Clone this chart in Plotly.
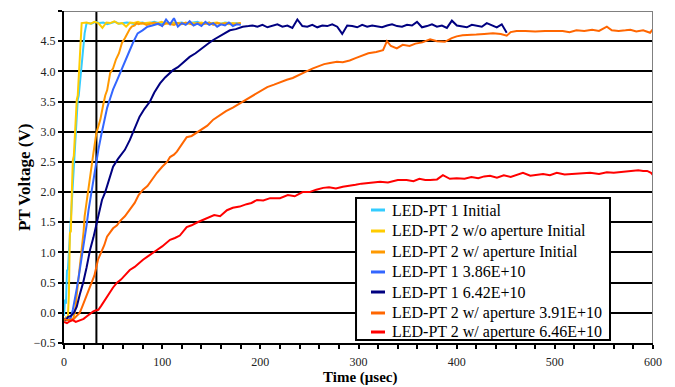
import numpy as np
import plotly.graph_objects as go

# ---------------- data ----------------
names = ["LED-PT 1 Initial", "LED-PT 2 w/o aperture Initial", "LED-PT 2 w/ aperture Initial",
         "LED-PT 1 3.86E+10", "LED-PT 1 6.42E+10", "LED-PT 2 w/ aperture 3.91E+10",
         "LED-PT 2 w/ aperture 6.46E+10"]
colors = ["#33CCFF", "#FFCC00", "#FF9900", "#3366FF", "#000080", "#FF6600", "#FF0000"]

# LED-PT 1 Initial
cyan_rise_x = [0,1,2,3,4,5,6,7,8,9,10,11,12,13,14,15,16,17,18,19,20,21,22,23]
cyan_rise_y = [-0.05,0.22,0.15,0.7,0.72,1.0,1.38,1.45,1.9,2.1,2.3,2.58,2.9,3.2,3.53,3.6,3.8,3.95,4.07,4.3,4.45,4.63,4.7,4.8]
cyan_flat_y = [4.80,4.79,4.82,4.80,4.81,4.78,4.80,4.82,4.79,4.80,4.81,4.80,4.78,4.80,4.81,4.79,4.80,4.82,4.80,4.79,
               4.81,4.80,4.78,4.80,4.81,4.79,4.80,4.80,4.82,4.79,4.80,4.81,4.78,4.80,4.79,4.81,4.80,4.79,4.80,4.78]
cyan_flat_span = (24, 180)

# LED-PT 2 w/o aperture Initial
yel_rise_x = [0,1,2,3,4,5,6,7,8,9,10,11,12,13,14,15,16,17,18]
yel_rise_y = [-0.1,-0.12,-0.08,-0.1,-0.05,0.3,1.32,1.35,2.0,2.53,2.6,3.0,3.3,3.53,3.6,4.0,4.27,4.5,4.8]
yel_flat_y = [4.80,4.81,4.79,4.82,4.80,4.72,4.81,4.80,4.83,4.79,4.80,4.74,4.81,4.80,4.82,4.79,4.80,4.81,4.78,4.80,
              4.82,4.79,4.80,4.81,4.79,4.80,4.78,4.81,4.80,4.79,4.81,4.80,4.78,4.80,4.81,4.79,4.80,4.78,4.80,4.79,4.80]
yel_flat_span = (19, 180)

# LED-PT 2 w/ aperture Initial
org_rise_x = [0,3,6,9,11,12,14,16,18,20,21,23,26,28,30,33,35,37,40,42,44,47,50,53,56,59,62,64,67,69,72,74]
org_rise_y = [-0.1,-0.12,-0.1,-0.12,0.0,0.15,0.45,0.7,1.0,1.35,1.6,1.85,2.2,2.4,2.65,2.98,3.1,3.2,3.45,3.6,3.69,3.97,
              4.05,4.2,4.3,4.47,4.55,4.62,4.7,4.74,4.76,4.8]
org_flat_y = [4.78,4.80,4.77,4.79,4.81,4.78,4.76,4.80,4.79,4.77,4.80,4.78,4.81,4.79,4.77,4.80,4.78,4.79,4.81,4.77,
              4.80,4.78,4.79,4.80,4.77,4.79,4.80]
org_flat_span = (76, 180)

# LED-PT 1 3.86E+10
blu_rise_x = [0,3,5,7,9,11,13,15,17,19,21,23,25,27,30,33,35,38,41,44,47,50,54,57,60,64,67,71,75,80,85,90]
blu_rise_y = [-0.1,-0.1,-0.12,-0.08,0.05,0.2,0.4,0.6,0.8,1.04,1.25,1.45,1.7,1.9,2.2,2.55,2.7,2.95,3.2,3.4,3.55,3.7,
              3.85,3.97,4.1,4.25,4.35,4.5,4.63,4.68,4.74,4.76]
blu_flat_y = [4.77,4.79,4.75,4.86,4.78,4.88,4.74,4.80,4.77,4.83,4.76,4.79,4.75,4.82,4.77,4.80,4.74,4.78,4.76,4.81,
              4.75,4.78,4.77]
blu_flat_span = (92, 180)

# LED-PT 1 6.42E+10
nav_rise_x = [0,2,4,7,10,13,16,19.5,23,26.5,30,33.6,36,38.7,42,45,48,50,55,62,67,72,77,82,87.6,92,97.8,103,108,111,
              116,122,128,134,140,146,152,158,163,169,175,182,188]
nav_rise_y = [-0.1,-0.12,-0.07,-0.05,0.0,0.1,0.3,0.5,0.75,1.04,1.25,1.49,1.7,1.87,2.0,2.15,2.3,2.42,2.55,2.7,2.86,
              3.05,3.25,3.38,3.5,3.65,3.8,3.9,3.97,4.02,4.07,4.15,4.24,4.3,4.38,4.45,4.52,4.58,4.63,4.68,4.70,4.74,4.75]
nav_flat_y = [4.76,4.74,4.77,4.73,4.75,4.78,4.74,4.76,4.72,4.86,4.75,4.74,4.77,4.73,4.76,4.75,4.78,4.74,4.62,4.76,
              4.75,4.73,4.77,4.74,4.76,4.75,4.73,4.76,4.78,4.75,4.74,4.77,4.76,4.82,4.73,4.75,4.78,4.74,4.76,4.72,
              4.84,4.76,4.75,4.73,4.77,4.75,4.74,4.80,4.76,4.73,4.78,4.64]
nav_flat_span = (192, 451)

# LED-PT 2 w/ aperture 3.91E+10
o2_x = [0,3,6,10,13,16,19,22,25,28.5,31,34.6,38,41,43.8,47,50,54,57,62,67,72,76,80.5,85,90,94.7,100,105,108,112,115,
        120,125,130,135,141.6,146,152,159,165,172,179,186,192,200,207,214,220,227,233,240,247,253.6,260,265,271,278,
        284,291,297,304.5,310,318,325,329,333,339,345,352,358,365,373,380,388,395,400,406,412,420,428,437,445,451,455,
        461,470,480,490,500,508,515,522,530,538,545,553,558,565,572,577,583,590,597,600]
o2_y = [-0.1,-0.12,-0.12,-0.1,-0.05,0.0,0.12,0.25,0.35,0.5,0.62,0.88,1.0,1.12,1.26,1.33,1.4,1.45,1.52,1.6,1.72,1.82,
        1.95,2.04,2.1,2.22,2.32,2.42,2.5,2.58,2.62,2.67,2.78,2.91,2.93,2.98,3.06,3.1,3.2,3.28,3.34,3.4,3.47,3.53,3.6,
        3.67,3.74,3.78,3.82,3.86,3.89,3.95,4.0,4.05,4.09,4.12,4.14,4.16,4.15,4.18,4.22,4.27,4.3,4.32,4.35,4.5,4.42,
        4.38,4.44,4.42,4.46,4.48,4.53,4.5,4.49,4.55,4.58,4.6,4.6,4.61,4.62,4.63,4.62,4.59,4.65,4.67,4.67,4.66,4.67,
        4.67,4.67,4.65,4.68,4.67,4.69,4.67,4.74,4.68,4.67,4.68,4.69,4.66,4.68,4.64,4.7]

# LED-PT 2 w/ aperture 6.46E+10
red_x = [0,3,6,9,12,16,20,23,26,29.5,32,35,38,41,43.8,47,50,54,58,62,67,72,76,80.5,85,90,94.7,100,104,108,113,118,125,
         130,136,141.6,148,153,159,166,172,179,186,191,196.6,203,210,220,228,235,243,250,257,264,270,277,284,290,297,
         303,308.6,315,322,330,340,349,356,362,368,373,380,386,393,400,408,415,422,428,434,441,448,455,462,467.5,475,
         482,488,495,502,510,518,526,536,545,553,560,568,577,585,590,594,598,600]
red_y = [-0.15,-0.17,-0.14,-0.12,-0.15,-0.13,-0.1,-0.06,-0.02,0.02,0.04,0.05,0.12,0.2,0.27,0.35,0.42,0.5,0.55,0.62,
         0.71,0.76,0.82,0.88,0.93,0.98,1.04,1.1,1.15,1.21,1.24,1.28,1.42,1.45,1.5,1.54,1.58,1.62,1.6,1.7,1.74,1.76,
         1.8,1.82,1.87,1.86,1.9,1.9,1.95,1.93,2.0,2.0,2.04,2.07,2.08,2.06,2.09,2.1,2.12,2.14,2.15,2.15,2.17,2.16,2.2,
         2.2,2.18,2.22,2.2,2.2,2.21,2.28,2.22,2.23,2.22,2.25,2.23,2.26,2.27,2.24,2.28,2.25,2.29,2.32,2.27,2.29,2.3,
         2.28,2.32,2.29,2.3,2.31,2.32,2.3,2.33,2.32,2.33,2.35,2.36,2.35,2.35,2.32,2.28]

y_ticks = [-0.5,0.0,0.5,1.0,1.5,2.0,2.5,3.0,3.5,4.0,4.5,5.0]
x_ticks = [0,100,200,300,400,500,600]
marker_time = 33  # vertical reference line
x_title = "Time (μsec)"
y_title = "PT Voltage (V)"


def join(rx, ry, flat, span):
    fx = np.linspace(span[0], span[1], len(flat))
    return list(rx) + list(fx), list(ry) + list(flat)


series = [
    join(cyan_rise_x, cyan_rise_y, cyan_flat_y, cyan_flat_span),
    join(yel_rise_x, yel_rise_y, yel_flat_y, yel_flat_span),
    join(org_rise_x, org_rise_y, org_flat_y, org_flat_span),
    join(blu_rise_x, blu_rise_y, blu_flat_y, blu_flat_span),
    join(nav_rise_x, nav_rise_y, nav_flat_y, nav_flat_span),
    (o2_x, o2_y),
    (red_x, red_y),
]

FONT = "Liberation Serif"

fig = go.Figure()
for (sx, sy), n, c in zip(series, names, colors):
    fig.add_trace(go.Scatter(x=sx, y=sy, mode="lines", name=n, line=dict(color=c, width=2),
                             showlegend=False))

# vertical marker line and gray top/right border
fig.add_shape(type="line", x0=marker_time, x1=marker_time, y0=-0.5, y1=5.0, xref="x", yref="y",
              line=dict(color="black", width=2), layer="below")
fig.add_shape(type="line", x0=0, x1=600, y0=5.0, y1=5.0, xref="x", yref="y",
              line=dict(color="#808080", width=2), layer="above")
fig.add_shape(type="line", x0=600, x1=600, y0=-0.5, y1=5.0, xref="x", yref="y",
              line=dict(color="#808080", width=2), layer="above")

# legend box (drawn by hand to match the compact original)
L_x0, L_x1, L_y0, L_y1 = 0.4958, 0.927, 0.009, 0.4367
fig.add_shape(type="rect", xref="paper", yref="paper", x0=L_x0, x1=L_x1, y0=L_y0, y1=L_y1,
              fillcolor="white", line=dict(color="black", width=2), layer="above")
item_y = [0.4006, 0.3373, 0.2741, 0.2139, 0.1536, 0.0904, 0.0331]
for n, c, yy in zip(names, colors, item_y):
    fig.add_shape(type="line", xref="paper", yref="paper", x0=0.5212, x1=0.5450, y0=yy, y1=yy,
                  line=dict(color=c, width=3), layer="above")
    fig.add_annotation(xref="paper", yref="paper", x=0.5535, y=yy, text=n, showarrow=False,
                       xanchor="left", yanchor="middle",
                       font=dict(family=FONT, size=16, color="black"))

# axis titles
fig.add_annotation(xref="paper", yref="paper", x=0.5025, y=-0.1054, text="<b>" + x_title + "</b>",
                   showarrow=False, xanchor="center", yanchor="middle",
                   font=dict(family=FONT, size=15, color="black"))
fig.add_annotation(xref="paper", yref="paper", x=-0.0662, y=0.497, text="<b>" + y_title + "</b>",
                   showarrow=False, xanchor="center", yanchor="middle", textangle=-90,
                   font=dict(family=FONT, size=17, color="black"))

# the page body adds an 8px offset, so margins are shifted to keep the plot area in place
fig.update_layout(
    width=675, height=387,
    margin=dict(l=56, r=30, t=3, b=52, autoexpand=False),
    paper_bgcolor="white", plot_bgcolor="white",
    font=dict(family=FONT, size=12, color="black"),
    showlegend=False,
    xaxis=dict(range=[0, 600], tickvals=x_ticks, ticks="outside", ticklen=4, tickwidth=2,
               tickcolor="black", showline=True, linecolor="black", linewidth=2,
               showgrid=False, zeroline=False, automargin=False,
               minor=dict(dtick=20, ticks="outside", ticklen=4, tickwidth=1.5, tickcolor="black", showgrid=False),
               tickfont=dict(family=FONT, size=12, color="#222"),
               ticklabelstandoff=3),
    # overlay axis: upper half of the crossing major ticks
    xaxis2=dict(range=[0, 600], tickvals=x_ticks, ticks="inside", ticklen=4, tickwidth=2,
                tickcolor="black", showline=False, showgrid=False, zeroline=False,
                showticklabels=False, overlaying="x", anchor="y", side="bottom", automargin=False),
    yaxis=dict(range=[-0.5, 5.0], tickvals=y_ticks, tickformat=".1f", ticks="outside", ticklen=4,
               tickwidth=1.5, tickcolor="black", showline=True, linecolor="black", linewidth=2,
               showgrid=True, gridcolor="black", gridwidth=2, zeroline=False, automargin=False,
               tickfont=dict(family=FONT, size=12, color="#222")),
)

fig.write_html("out.html")
